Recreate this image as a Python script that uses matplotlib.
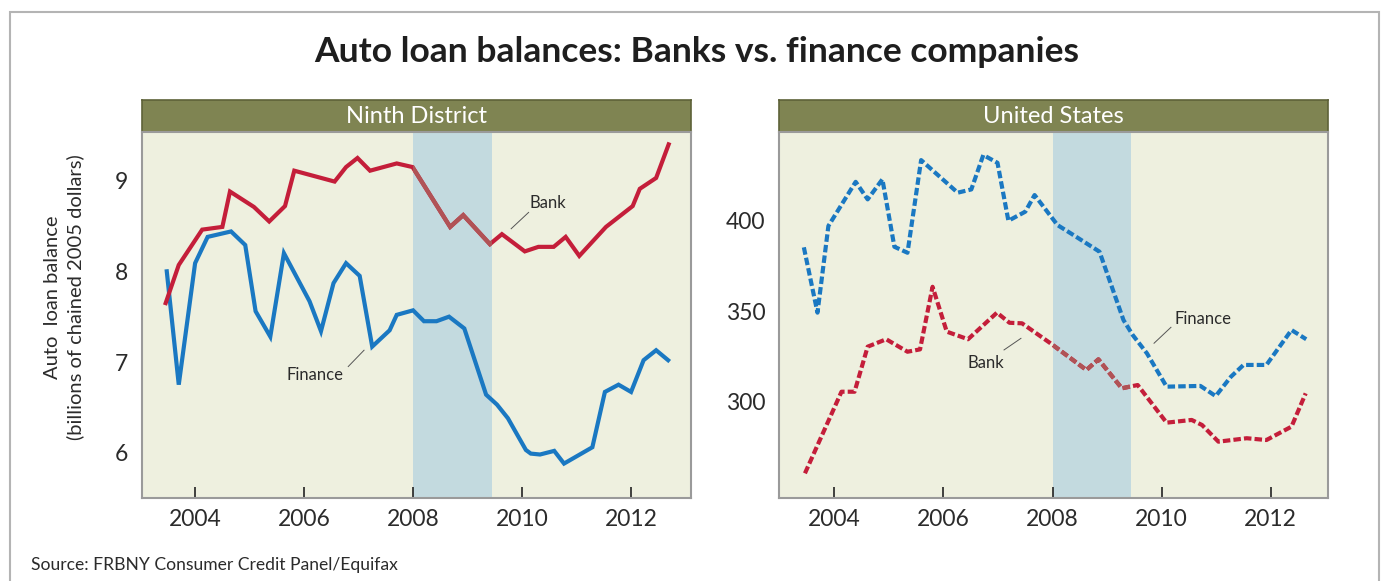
# Saldos de prestamos de auto: bancos contra financieras
# Dos paneles: Ninth District (linea continua) y Estados Unidos (linea punteada)

import numpy as np
import matplotlib.pyplot as plt
from matplotlib.patches import Rectangle

# datos Ninth District (miles de millones de dolares de 2005)
Fechas_banco_ninth = [
    2003.46, 2003.70, 2004.13, 2004.50, 2004.64, 2005.08, 2005.36, 2005.65,
    2005.82, 2006.56, 2006.77, 2006.98, 2007.21, 2007.70, 2007.99, 2008.68,
    2008.92, 2009.41, 2009.63, 2010.05, 2010.30, 2010.58, 2010.80, 2011.05,
    2011.54, 2012.03, 2012.16, 2012.46, 2012.69
]
Banco_ninth = [
    7.65, 8.07, 8.46, 8.49, 8.88, 8.71, 8.55, 8.72,
    9.11, 8.99, 9.15, 9.25, 9.11, 9.19, 9.15, 8.49,
    8.62, 8.30, 8.41, 8.22, 8.27, 8.27, 8.38, 8.17,
    8.49, 8.72, 8.91, 9.03, 9.40
]

Fechas_financiera_ninth = [
    2003.48, 2003.70, 2004.00, 2004.23, 2004.66, 2004.92, 2005.11, 2005.38,
    2005.63, 2006.10, 2006.31, 2006.54, 2006.77, 2007.02, 2007.25, 2007.57,
    2007.70, 2008.00, 2008.20, 2008.43, 2008.66, 2008.94, 2009.34, 2009.54,
    2009.74, 2009.90, 2010.07, 2010.16, 2010.33, 2010.59, 2010.77, 2011.29,
    2011.52, 2011.77, 2012.00, 2012.23, 2012.46, 2012.68
]
Financiera_ninth = [
    8.00, 6.75, 8.09, 8.38, 8.44, 8.29, 7.56, 7.28,
    8.20, 7.67, 7.34, 7.87, 8.09, 7.95, 7.17, 7.35,
    7.52, 7.57, 7.45, 7.45, 7.50, 7.37, 6.64, 6.53,
    6.38, 6.21, 6.03, 5.99, 5.98, 6.02, 5.88, 6.06,
    6.67, 6.75, 6.67, 7.02, 7.13, 7.02
]

# datos Estados Unidos (miles de millones de dolares de 2005)
Fechas_banco_us = [
    2003.46, 2004.13, 2004.37, 2004.61, 2004.95, 2005.34, 2005.57, 2005.80,
    2006.06, 2006.45, 2006.98, 2007.21, 2007.44, 2007.96, 2008.62, 2008.84,
    2009.27, 2009.56, 2010.09, 2010.55, 2010.74, 2011.04, 2011.56, 2011.92,
    2012.38, 2012.64
]
Banco_us = [
    260.4, 305.5, 305.5, 330.4, 334.5, 327.6, 328.9, 363.5,
    338.7, 334.5, 349.2, 343.6, 343.3, 332.3, 317.5, 323.4,
    307.4, 309.2, 288.4, 289.9, 287.1, 277.9, 279.8, 278.8,
    286.2, 304.6
]

Fechas_financiera_us = [
    2003.44, 2003.69, 2003.89, 2004.39, 2004.61, 2004.88, 2005.10, 2005.34,
    2005.59, 2006.26, 2006.51, 2006.73, 2006.99, 2007.19, 2007.50, 2007.67,
    2008.09, 2008.35, 2008.86, 2009.30, 2009.47, 2009.73, 2010.09, 2010.71,
    2010.99, 2011.27, 2011.50, 2011.92, 2012.38, 2012.65
]
Financiera_us = [
    385.3, 349.2, 397.1, 421.5, 411.8, 422.9, 385.6, 382.3,
    433.5, 415.5, 417.3, 436.3, 432.0, 400.0, 405.0, 414.2,
    397.6, 392.7, 382.9, 345.1, 336.8, 326.7, 308.3, 308.7,
    303.1, 313.8, 320.3, 320.3, 339.6, 334.5
]

# recesion
Recesion = [2008.0, 2009.44]

# marcas del eje x
Anios = [2004, 2006, 2008, 2010, 2012]

# colores
Rojo = "#C41E3A"
Rojo_recesion = "#B05356"
Azul = "#1A78C2"
Fondo = "#EEF0DF"
Olivo = "#7F8452"
Sombra = "#C3DADF"
Texto = "#2B2B2B"

plt.rcParams["font.family"] = ["Lato", "DejaVu Sans"]

# crear figura
Figura = plt.figure(
    figsize=(13.83, 5.81),
    dpi=100
)

Ancho = 1383.0
Alto = 581.0


def Caja(x0, x1, y0, y1):
    # convierte pixeles a fracciones de figura
    return [x0 / Ancho, 1 - y1 / Alto, (x1 - x0) / Ancho, (y1 - y0) / Alto]


# marco exterior
Figura.patches.append(
    Rectangle(
        (10 / Ancho, -0.05),
        (1379 - 10) / Ancho,
        1.05 - 11.5 / Alto,
        transform=Figura.transFigure,
        fill=False,
        edgecolor="#B4B4B4",
        linewidth=1.5
    )
)

# titulo
Figura.text(
    697 / Ancho,
    1 - 52 / Alto,
    "Auto loan balances: Banks vs. finance companies",
    ha="center",
    va="center",
    fontsize=25.5,
    fontweight="bold",
    color="#1E1E1E"
)

# fuente
Figura.text(
    31 / Ancho,
    1 - 565 / Alto,
    "Source: FRBNY Consumer Credit Panel/Equifax",
    ha="left",
    va="center",
    fontsize=12.6,
    color=Texto
)

# etiqueta del eje y
Figura.text(
    53 / Ancho,
    1 - 297 / Alto,
    "Auto  loan balance",
    rotation=90,
    ha="center",
    va="center",
    fontsize=14.5,
    color=Texto
)
Figura.text(
    75 / Ancho,
    1 - 297 / Alto,
    "(billions of chained 2005 dollars)",
    rotation=90,
    ha="center",
    va="center",
    fontsize=14.5,
    color=Texto
)


def Panel(x0, x1, titulo, limites_x, limites_y, marcas_y):
    # encabezado verde olivo
    Encabezado = Figura.add_axes(Caja(x0, x1, 99.5, 131.7))
    Encabezado.set_facecolor(Olivo)
    Encabezado.set_xticks([])
    Encabezado.set_yticks([])
    for Lado in Encabezado.spines.values():
        Lado.set_color("#5E6238")
        Lado.set_linewidth(1.2)
    Encabezado.text(
        0.5, 0.47, titulo,
        transform=Encabezado.transAxes,
        ha="center",
        va="center",
        fontsize=17,
        color="white"
    )

    # area de la grafica
    Eje = Figura.add_axes(Caja(x0, x1, 131.7, 498.3))
    Eje.set_facecolor(Fondo)
    Eje.set_xlim(limites_x)
    Eje.set_ylim(limites_y)
    Eje.set_xticks(Anios)
    Eje.set_xticklabels([str(A) for A in Anios])
    Eje.set_yticks(marcas_y)
    Eje.tick_params(
        axis="x",
        direction="in",
        length=8,
        width=1.2,
        color="#222222",
        labelsize=16.5,
        labelcolor=Texto,
        pad=8
    )
    Eje.tick_params(
        axis="y",
        length=0,
        labelsize=16.5,
        labelcolor=Texto,
        pad=10
    )
    for Lado in Eje.spines.values():
        Lado.set_color("#9A9A9A")
        Lado.set_linewidth(1.5)

    # sombra de la recesion
    Franja = Eje.axvspan(
        Recesion[0],
        Recesion[1],
        color=Sombra,
        lw=0,
        zorder=1
    )
    return Eje, Franja


# panel izquierdo: Ninth District
Eje_ninth, Franja_ninth = Panel(
    141.7, 691, "Ninth District",
    (2003.02, 2013.10), (5.497, 9.54), [6, 7, 8, 9]
)

Eje_ninth.plot(
    Fechas_financiera_ninth,
    Financiera_ninth,
    color=Azul,
    lw=3.0,
    solid_joinstyle="miter",
    zorder=3
)
Eje_ninth.plot(
    Fechas_banco_ninth,
    Banco_ninth,
    color=Rojo,
    lw=3.0,
    solid_joinstyle="miter",
    zorder=4
)
# tramo del banco dentro de la recesion
Tramo, = Eje_ninth.plot(
    Fechas_banco_ninth,
    Banco_ninth,
    color=Rojo_recesion,
    lw=3.0,
    solid_joinstyle="miter",
    zorder=5
)
Tramo.set_clip_path(Franja_ninth)

Eje_ninth.text(2010.48, 8.75, "Bank", fontsize=12, color=Texto,
               ha="center", va="center")
Eje_ninth.plot([2009.80, 2010.12], [8.47, 8.65], color="#555555", lw=0.7)
Eje_ninth.text(2006.20, 6.86, "Finance", fontsize=12, color=Texto,
               ha="center", va="center")
Eje_ninth.plot([2006.81, 2007.10], [6.95, 7.13], color="#555555", lw=0.7)

# panel derecho: Estados Unidos
Eje_us, Franja_us = Panel(
    779.3, 1327.5, "United States",
    (2002.99, 2013.04), (246.6, 449.2), [300, 350, 400]
)

Punteado = (0, (1.8, 0.75))

Eje_us.plot(
    Fechas_financiera_us,
    Financiera_us,
    color=Azul,
    lw=3.0,
    linestyle=Punteado,
    dash_capstyle="butt",
    zorder=3
)
Eje_us.plot(
    Fechas_banco_us,
    Banco_us,
    color=Rojo,
    lw=3.0,
    linestyle=Punteado,
    dash_capstyle="butt",
    zorder=4
)
Tramo_us, = Eje_us.plot(
    Fechas_banco_us,
    Banco_us,
    color=Rojo_recesion,
    lw=3.0,
    linestyle=Punteado,
    dash_capstyle="butt",
    zorder=5
)
Tramo_us.set_clip_path(Franja_us)

Eje_us.text(2010.76, 345.9, "Finance", fontsize=12, color=Texto,
            ha="center", va="center")
Eje_us.plot([2009.86, 2010.17], [332.3, 341.1], color="#555555", lw=0.7)
Eje_us.text(2006.77, 321.5, "Bank", fontsize=12, color=Texto,
            ha="center", va="center")
Eje_us.plot([2007.11, 2007.42], [328.6, 335.0], color="#555555", lw=0.7)

# guardar
Figura.savefig("out.png", dpi=100)
